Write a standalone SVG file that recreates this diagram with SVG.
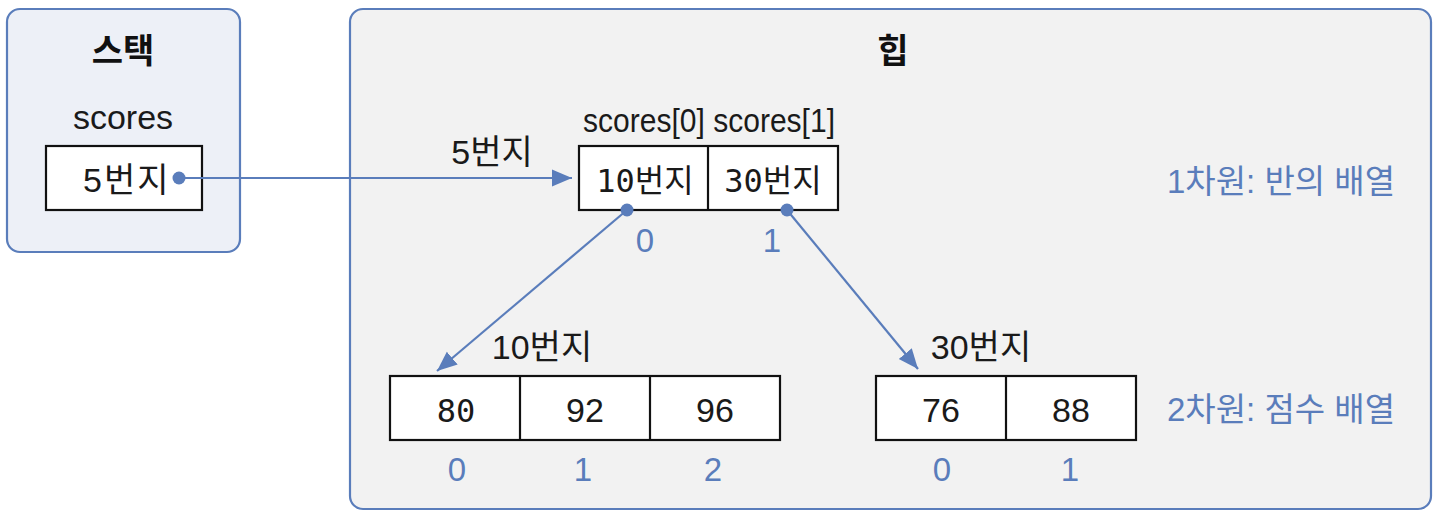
<svg xmlns="http://www.w3.org/2000/svg" width="1440" height="513" viewBox="0 0 1440 513">
<defs>
<style>
.panel{stroke:#5a7dbb;stroke-width:2.2}
.cell{fill:#fff;stroke:#111;stroke-width:2.2}
.t{font-family:"Liberation Sans","Noto Sans CJK KR",sans-serif;fill:#1a1a1a;font-size:34px}
.h{font-family:"Noto Sans CJK KR",sans-serif;font-weight:bold;fill:#111;font-size:34px;text-anchor:middle}
.m{font-family:"DejaVu Sans Mono","Noto Sans CJK KR",monospace;fill:#1a1a1a;font-size:32px;text-anchor:middle}
.v{font-family:"Liberation Sans","Noto Sans CJK KR",sans-serif;fill:#1a1a1a;font-size:34px;text-anchor:middle}
.b{font-family:"Liberation Sans","Noto Sans CJK KR",sans-serif;fill:#5a7dbb;font-size:33px}
.c{fill:none;stroke:#5a7dbb;stroke-width:2.2}
.dot{fill:#5a7dbb}
</style>
<marker id="ah2" viewBox="0 0 10 10" refX="10" refY="5" markerWidth="20" markerHeight="20" markerUnits="userSpaceOnUse" orient="auto">
<path d="M0,0.8 L10,5 L0,9.2 z" fill="#5a7dbb"/>
</marker>
</defs>
<rect width="1440" height="513" fill="#fff"/>
<g id="stack">
<rect class="panel" x="7" y="9" width="233" height="243" rx="13" fill="#edf0f7"/>
<text class="h" x="123" y="63">스택</text>
<text class="t" x="123" y="129" text-anchor="middle">scores</text>
<rect class="cell" x="46" y="146" width="156" height="64"/>
<text class="t" x="83" y="192" style="letter-spacing:2px">5번지</text>
</g>
<g id="heap">
<rect class="panel" x="350" y="9" width="1081" height="500" rx="13" fill="#f2f2f2"/>
<text class="h" x="893" y="63">힙</text>
<text class="t" x="492" y="164" text-anchor="middle">5번지</text>
<text class="t" x="709" y="132" text-anchor="middle" textLength="252" lengthAdjust="spacingAndGlyphs">scores[0] scores[1]</text>
<text class="b" x="1395" y="193" text-anchor="end">1차원: 반의 배열</text>
<text class="b" x="1395" y="421" text-anchor="end">2차원: 점수 배열</text>
</g>
<g id="arr1">
<rect class="cell" x="579" y="146" width="259" height="64"/>
<line class="cell" x1="708" y1="146" x2="708" y2="210"/>
<text class="m" x="645" y="192">10번지</text>
<text class="m" x="773" y="192">30번지</text>
<text class="b" x="645" y="252" text-anchor="middle">0</text>
<text class="b" x="772" y="252" text-anchor="middle">1</text>
</g>
<g id="arr10">
<text class="t" x="542" y="359" text-anchor="middle">10번지</text>
<rect class="cell" x="390" y="376" width="390" height="64"/>
<line class="cell" x1="520" y1="376" x2="520" y2="440"/>
<line class="cell" x1="650" y1="376" x2="650" y2="440"/>
<text class="m" x="456" y="422">80</text>
<text class="v" x="585" y="422">92</text>
<text class="v" x="715" y="422">96</text>
<text class="b" x="457" y="481" text-anchor="middle">0</text>
<text class="b" x="583" y="481" text-anchor="middle">1</text>
<text class="b" x="713" y="481" text-anchor="middle">2</text>
</g>
<g id="arr30">
<text class="t" x="981" y="359" text-anchor="middle">30번지</text>
<rect class="cell" x="876" y="376" width="260" height="64"/>
<line class="cell" x1="1006" y1="376" x2="1006" y2="440"/>
<text class="v" x="941" y="422">76</text>
<text class="v" x="1071" y="422">88</text>
<text class="b" x="942" y="481" text-anchor="middle">0</text>
<text class="b" x="1070" y="481" text-anchor="middle">1</text>
</g>
<g id="connectors">
<line class="c" x1="179" y1="178" x2="572" y2="178" marker-end="url(#ah2)"/>
<circle class="dot" cx="179" cy="178" r="6.5"/>
<line class="c" x1="627" y1="210" x2="437" y2="371" marker-end="url(#ah2)"/>
<circle class="dot" cx="627" cy="210" r="6.5"/>
<line class="c" x1="787" y1="210" x2="918" y2="369" marker-end="url(#ah2)"/>
<circle class="dot" cx="787" cy="210" r="6.5"/>
</g>
</svg>
